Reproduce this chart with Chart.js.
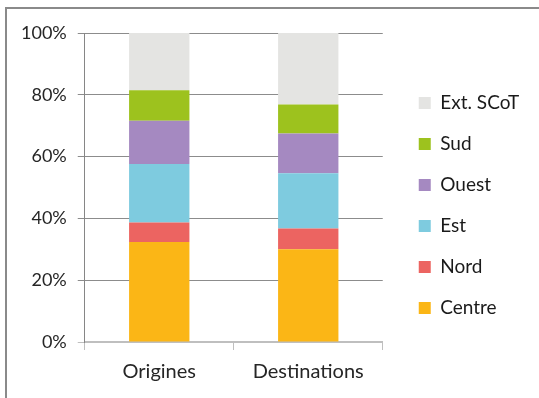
<!DOCTYPE html>
<html>
<head>
<meta charset="utf-8">
<script src="https://cdn.jsdelivr.net/npm/chart.js@4/dist/chart.umd.min.js"></script>
<style>
  body { margin: 0; background: #fff; }
  #frame { position: absolute; left: 5px; top: 7px; width: 600px; height: 500px; border: 2px solid #8a8a8a; }
  #wrap { position: absolute; left: 0; top: 0; width: 539px; height: 398px; }
</style>
</head>
<body>
<div id="frame"></div>
<div id="wrap"><canvas id="myChart" width="539" height="398"></canvas></div>
<script>
const categories = ["Origines", "Destinations"];
const centre = [32.4, 30.0];
const nord = [6.3, 6.7];
const est = [18.9, 17.9];
const ouest = [14.0, 12.9];
const sud = [9.9, 9.4];
const extScot = [18.5, 23.1];
const yTicks = [0, 20, 40, 60, 80, 100];

// nudge the legend to where it sits in the original
const legendShift = {
  id: "legendShift",
  afterLayout(chart) {
    const lg = chart.legend;
    if (lg) {
      lg.left += 14;
      lg.right = chart.width;
      lg.top -= 8;
      lg.bottom -= 8;
    }
  },
};

const ctx = document.getElementById("myChart").getContext("2d");
new Chart(ctx, {
  type: "bar",
  data: {
    labels: categories,
    datasets: [
      { label: "Centre", data: centre, backgroundColor: "#FBB616" },
      { label: "Nord", data: nord, backgroundColor: "#EC6461" },
      { label: "Est", data: est, backgroundColor: "#7ECBDF" },
      { label: "Ouest", data: ouest, backgroundColor: "#A589C1" },
      { label: "Sud", data: sud, backgroundColor: "#9DC21E" },
      { label: "Ext. SCoT", data: extScot, backgroundColor: "#E4E4E2" },
    ],
  },
  options: {
    responsive: false,
    animation: false,
    layout: { padding: { left: 10, top: 33, right: 32, bottom: 4 } },
    datasets: { bar: { categoryPercentage: 1, barPercentage: 0.405 } },
    scales: {
      x: {
        stacked: true,
        grid: { drawOnChartArea: false, color: "#bfbfbf", tickLength: 8 },
        border: { color: "#bfbfbf", width: 2 },
        ticks: { color: "#262626", padding: 10, font: { family: "Lato", size: 20 } },
      },
      y: {
        stacked: true,
        min: 0,
        max: 100,
        afterBuildTicks: (axis) => { axis.ticks = yTicks.map((v) => ({ value: v })); },
        grid: {
          color: (c) => (c.tick && c.tick.value === 0 ? "#bfbfbf" : "#8c8c8c"),
          tickLength: 7,
        },
        border: { color: "#868686", width: 1 },
        ticks: {
          color: "#262626",
          padding: 11,
          font: { family: "Lato", size: 18 },
          callback: (v) => v + "%",
        },
      },
    },
    plugins: {
      legend: {
        position: "right",
        reverse: true,
        labels: {
          boxWidth: 12,
          boxHeight: 12,
          padding: 22,
          color: "#1a1a1a",
          font: { family: "Lato", size: 19 },
        },
      },
      tooltip: { enabled: false },
    },
  },
  plugins: [legendShift],
});
</script>
</body>
</html>
